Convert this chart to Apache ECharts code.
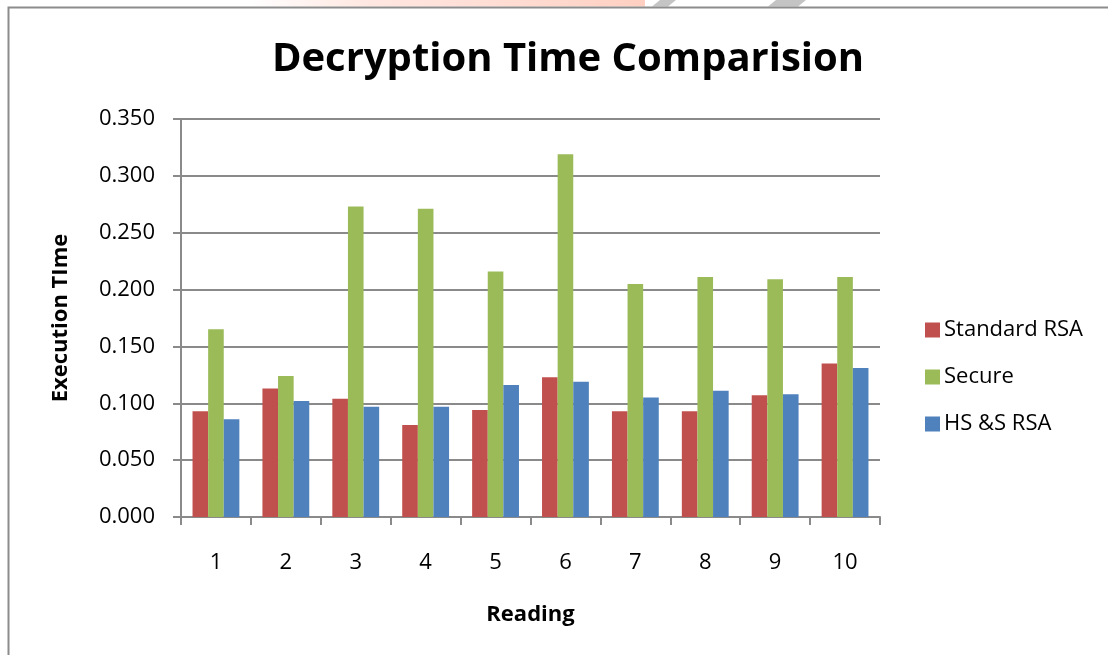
<!DOCTYPE html>
<html>
<head>
<meta charset="utf-8">
<script src="https://cdn.jsdelivr.net/npm/echarts@6/dist/echarts.min.js"></script>
<style>
  html, body { margin: 0; padding: 0; background: #fff; }
  #chart { width: 1108px; height: 655px; }
</style>
</head>
<body>
<div id="chart"></div>
<script>
// Readings 1..10
const readings = ['1', '2', '3', '4', '5', '6', '7', '8', '9', '10'];
// Decryption execution times per algorithm
const standardRSA = [0.093, 0.113, 0.104, 0.081, 0.094, 0.123, 0.093, 0.093, 0.107, 0.135];
const secure = [0.165, 0.124, 0.273, 0.271, 0.216, 0.319, 0.205, 0.211, 0.209, 0.211];
const hsRSA = [0.086, 0.102, 0.097, 0.097, 0.116, 0.119, 0.105, 0.111, 0.108, 0.131];
const seriesNames = ['Standard RSA', 'Secure', 'HS &S RSA'];
const seriesColors = ['#C0504D', '#9BBB59', '#4F81BD'];

const font = '"Open Sans", "Liberation Sans", sans-serif';
const gridColor = '#8a8a8a';

const chart = echarts.init(document.getElementById('chart'), null, { renderer: 'canvas' });

chart.setOption({
  backgroundColor: '#ffffff',
  animation: false,
  title: {
    text: 'Decryption Time Comparision',
    left: 563,
    textAlign: 'center',
    top: 35,
    textStyle: { fontFamily: font, fontSize: 40, fontWeight: 'bold', color: '#000' }
  },
  graphic: [
    // page header strip above the frame
    {
      type: 'rect',
      shape: { x: 250, y: 0, width: 395, height: 6.5 },
      style: {
        fill: new echarts.graphic.LinearGradient(0, 0, 1, 0, [
          { offset: 0, color: 'rgba(255,215,205,0)' },
          { offset: 0.3, color: 'rgba(255,215,205,0.6)' },
          { offset: 1, color: 'rgba(255,205,190,0.95)' }
        ])
      },
      silent: true
    },
    {
      type: 'polygon',
      shape: { points: [[652, 6.5], [660, 0], [676, 0], [668, 6.5]] },
      style: { fill: '#c4c4c4' },
      silent: true
    },
    {
      type: 'polygon',
      shape: { points: [[768, 6.5], [776, 0], [806, 0], [798, 6.5]] },
      style: { fill: '#c4c4c4' },
      silent: true
    },
    {
      type: 'rect',
      shape: { x: 8.5, y: 7.5, width: 1200, height: 700 },
      style: { fill: 'none', stroke: '#8c8c8c', lineWidth: 2 },
      silent: true
    }
  ],
  legend: {
    orient: 'vertical',
    left: 920,
    top: 314,
    itemWidth: 15,
    itemHeight: 15,
    itemGap: 25,
    icon: 'rect',
    textStyle: { fontFamily: font, fontSize: 22, color: '#000', padding: [0, 0, 0, -1] },
    data: seriesNames
  },
  grid: { left: 181, right: 228, top: 119, bottom: 138, containLabel: false },
  xAxis: {
    type: 'category',
    data: readings,
    name: 'Reading',
    nameLocation: 'middle',
    nameGap: 87,
    nameTextStyle: { fontFamily: font, fontSize: 22, fontWeight: 'bold', color: '#000' },
    axisLine: { lineStyle: { color: gridColor, width: 2 } },
    axisTick: { show: true, length: 8, lineStyle: { color: gridColor, width: 2 } },
    axisLabel: { fontFamily: font, fontSize: 22, color: '#000', margin: 35 }
  },
  yAxis: {
    type: 'value',
    min: 0,
    max: 0.35,
    interval: 0.05,
    name: 'Execution TIme',
    nameLocation: 'middle',
    nameGap: 109,
    nameRotate: 90,
    nameTextStyle: { fontFamily: font, fontSize: 22, fontWeight: 'bold', color: '#000' },
    axisLine: { show: true, lineStyle: { color: gridColor, width: 2 } },
    axisTick: { show: true, length: 8, lineStyle: { color: gridColor, width: 2 } },
    splitLine: { show: true, lineStyle: { color: gridColor, width: 2 } },
    axisLabel: {
      fontFamily: font, fontSize: 22, color: '#000', margin: 26,
      formatter: v => v.toFixed(3)
    }
  },
  series: [standardRSA, secure, hsRSA].map((d, i) => ({
    name: seriesNames[i],
    type: 'bar',
    data: d,
    barGap: '0%',
    barCategoryGap: '33%',
    itemStyle: { color: seriesColors[i] }
  }))
});
</script>
</body>
</html>
